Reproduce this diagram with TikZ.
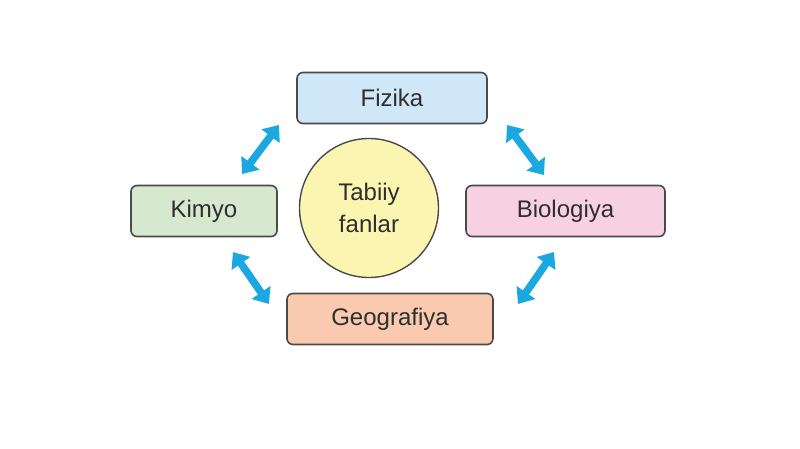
\documentclass[tikz,border=0pt]{standalone}
\usepackage{fontspec}
\setmainfont{Liberation Sans}
\usetikzlibrary{arrows.meta}
\definecolor{bordc}{HTML}{4A4A4A}
\definecolor{txtc}{HTML}{2E2E2E}
\definecolor{fizc}{HTML}{CFE7F6}
\definecolor{kimc}{HTML}{D6E9CF}
\definecolor{bioc}{HTML}{F7D1E1}
\definecolor{geoc}{HTML}{F9CAAF}
\definecolor{circc}{HTML}{FBF5B2}
\definecolor{arrc}{HTML}{1BA7E0}
\tikzset{
  subj/.style={draw=bordc, line width=1.6pt, rounded corners=6pt, minimum height=51pt,
    inner sep=0pt, text=txtc, font=\fontsize{24}{28}\selectfont},
  hub/.style={circle, draw=bordc, line width=1.4pt, fill=circc, minimum size=139pt,
    inner sep=0pt, text=txtc, align=center, font=\fontsize{24}{32}\selectfont},
  link/.style={draw=arrc, line width=7.5pt, {Triangle[width=22pt,length=14pt]}-{Triangle[width=22pt,length=14pt]}}
}
\begin{document}
\begin{tikzpicture}[x=1pt,y=-1pt]
\useasboundingbox (0,0) rectangle (800,449);
\node[subj, fill=fizc, minimum width=190pt] (fiz) at (392,98) {Fizika};
\node[subj, fill=kimc, minimum width=146pt] (kim) at (204,211) {Kimyo};
\node[subj, fill=bioc, minimum width=199pt] (bio) at (565.5,211) {Biologiya};
\node[subj, fill=geoc, minimum width=206pt] (geo) at (390,319) {Geografiya};
\node[hub] (hub) at (369,208) {Tabiiy\\fanlar};
\coordinate (a1) at (242,174); \coordinate (a2) at (279,125);
\coordinate (b1) at (507,125); \coordinate (b2) at (544,175);
\coordinate (c1) at (233,252); \coordinate (c2) at (269,304);
\coordinate (d1) at (554,252); \coordinate (d2) at (518,304);
\draw[link] (a1) -- (a2);
\draw[link] (b1) -- (b2);
\draw[link] (c1) -- (c2);
\draw[link] (d1) -- (d2);
\end{tikzpicture}
\end{document}
